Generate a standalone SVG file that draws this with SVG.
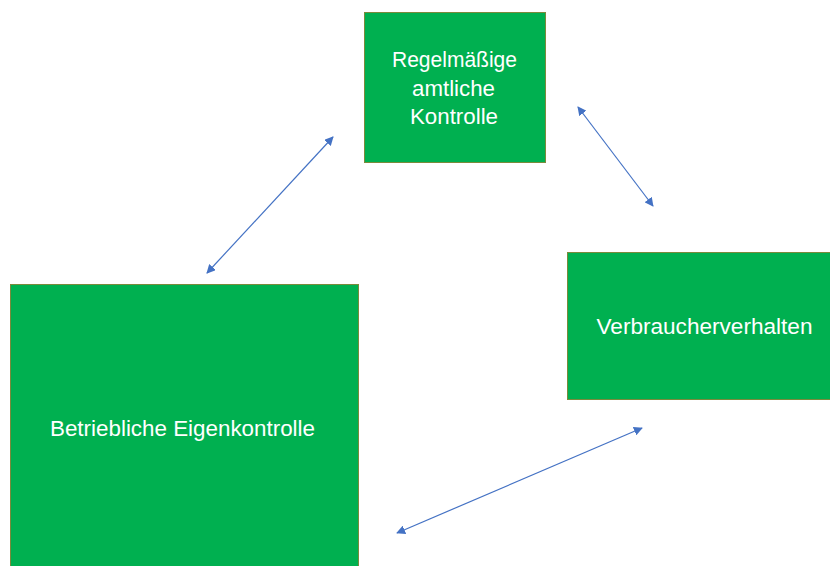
<svg xmlns="http://www.w3.org/2000/svg" width="830" height="566" viewBox="0 0 830 566">
<style>
.box{fill:#00B050;stroke:#7a8a3c;stroke-width:1}
.lbl{font-family:"Liberation Sans",Arial,sans-serif;font-size:22px;fill:#ffffff;text-anchor:middle}
.conn{stroke:#4472C4;stroke-width:1.2;fill:none;marker-start:url(#ah);marker-end:url(#ah)}
</style>
<defs>
<marker id="ah" viewBox="0 0 10 10" refX="9" refY="5" markerWidth="9" markerHeight="9" markerUnits="userSpaceOnUse" orient="auto-start-reverse">
<path d="M0,0 L10,5 L0,10 z" fill="#4472C4"/>
</marker>
</defs>
<rect width="830" height="566" fill="#ffffff"/>
<g id="node-regelmaessige">
<rect class="box" x="364.5" y="12.5" width="181" height="150"/>
<text class="lbl" x="454.5" y="67" textLength="125" lengthAdjust="spacingAndGlyphs">Regelmäßige</text>
<text class="lbl" x="453.5" y="96" textLength="83" lengthAdjust="spacingAndGlyphs">amtliche</text>
<text class="lbl" x="454" y="124" textLength="88" lengthAdjust="spacingAndGlyphs">Kontrolle</text>
</g>
<g id="node-verbraucher">
<rect class="box" x="567.5" y="252.5" width="270" height="147"/>
<text class="lbl" x="704.5" y="334" textLength="216" lengthAdjust="spacingAndGlyphs">Verbraucherverhalten</text>
</g>
<g id="node-betrieblich">
<rect class="box" x="10.5" y="284.5" width="348" height="290"/>
<text class="lbl" x="182.5" y="436" textLength="265" lengthAdjust="spacingAndGlyphs">Betriebliche Eigenkontrolle</text>
</g>
<g id="connectors">
<line class="conn" x1="207" y1="273" x2="333" y2="137"/>
<line class="conn" x1="578" y1="107" x2="653" y2="206"/>
<line class="conn" x1="397" y1="533" x2="642" y2="428"/>
</g>
</svg>
